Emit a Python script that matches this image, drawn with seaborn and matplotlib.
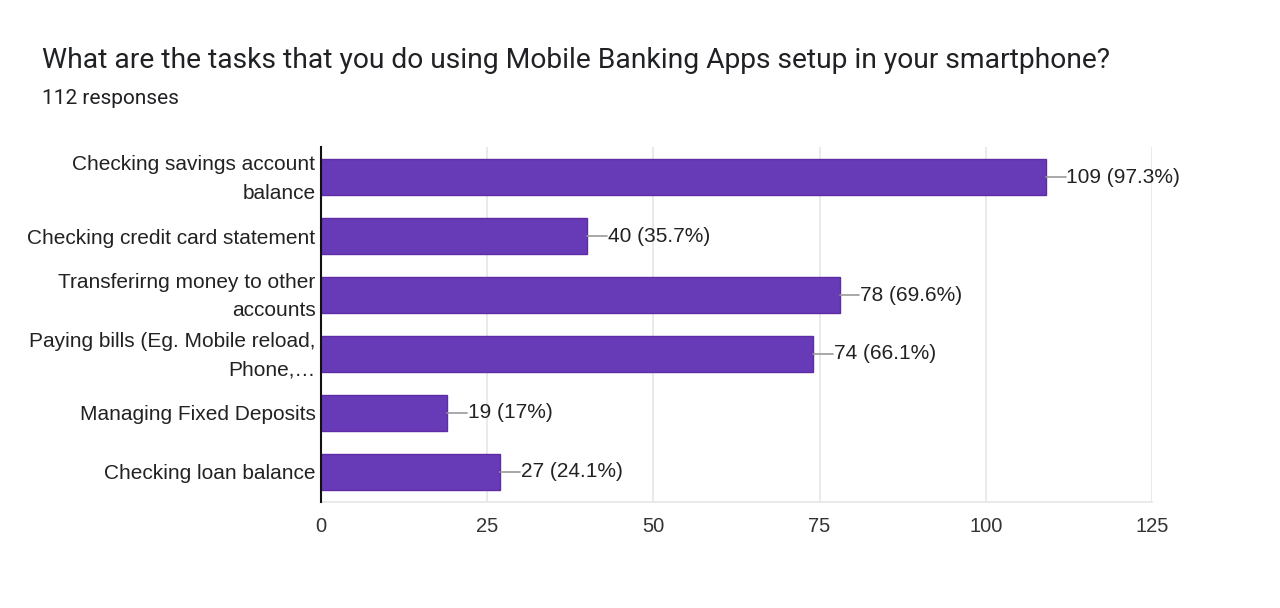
import matplotlib
matplotlib.use("Agg")
import matplotlib.pyplot as plt
import matplotlib.transforms as mtransforms
import seaborn as sns
import pandas as pd

categories = [
    "Checking savings account\nbalance",
    "Checking credit card statement",
    "Transferirng money to other\naccounts",
    "Paying bills (Eg. Mobile reload,\nPhone,\u2026",
    "Managing Fixed Deposits",
    "Checking loan balance",
]
counts = [109, 40, 78, 74, 19, 27]
pct_labels = ["97.3%", "35.7%", "69.6%", "66.1%", "17%", "24.1%"]
xticks = [0, 25, 50, 75, 100, 125]

sns.set_theme(style="white")
plt.rcParams["font.family"] = ["Liberation Sans", "DejaVu Sans"]

df = pd.DataFrame({"task": categories, "count": counts})

fig = plt.figure(figsize=(12.8, 6.08), dpi=100)
ax = fig.add_axes([321/1280, 1 - 502/608, (1152 - 321)/1280, (502 - 147)/608])

sns.barplot(data=df, x="count", y="task", orient="h", color="#673ab7",
            saturation=1, width=0.61, edgecolor="#5e2ca5", linewidth=1, ax=ax, zorder=3)

ax.set_xlim(0, 125)
ax.set_ylim(5.51, -0.51)
ax.set_xticks(xticks)
ax.set_xticklabels([str(t) for t in xticks], fontsize=14.5, color="#333333")
ax.tick_params(axis="x", length=0, pad=11)
ax.tick_params(axis="y", length=0, pad=4)
shift_up = mtransforms.ScaledTranslation(0, 5/100, fig.dpi_scale_trans)
for lbl in ax.get_yticklabels():
    lbl.set_fontsize(15)
    lbl.set_color("#222222")
    lbl.set_horizontalalignment("right")
    lbl.set_multialignment("right")
    lbl.set_linespacing(1.63)
    if "\n" in lbl.get_text():
        lbl.set_transform(lbl.get_transform() + shift_up)
ax.set_xlabel("")
ax.set_ylabel("")
ax.xaxis.grid(True, color="#e6e6e6", linewidth=1.2, zorder=0)
ax.yaxis.grid(False)
for side in ["top", "right"]:
    ax.spines[side].set_visible(False)
ax.spines["bottom"].set_color("#e6e6e6")
ax.spines["bottom"].set_linewidth(1.2)
ax.spines["left"].set_color("#111111")
ax.spines["left"].set_linewidth(1.5)
ax.spines["left"].set_zorder(5)

for i, (c, p) in enumerate(zip(counts, pct_labels)):
    ax.plot([c, c + 3.0], [i, i], color="#999999", linewidth=1.2, zorder=4, clip_on=False)
    ax.text(c + 3.1, i, f"{c} ({p})", va="center", ha="left", fontsize=15,
            color="#222222", zorder=4)

fig.text(42/1280, 1 - 61/608, "What are the tasks that you do using Mobile Banking Apps setup in your smartphone?",
         fontsize=20.3, color="#202124", va="center", ha="left", family=["Roboto", "DejaVu Sans"])
fig.text(42/1280, 1 - 98/608, "112 responses", fontsize=15, color="#202124",
         va="center", ha="left", family=["Roboto", "DejaVu Sans"])

fig.savefig("out.png", dpi=100, facecolor="white")
